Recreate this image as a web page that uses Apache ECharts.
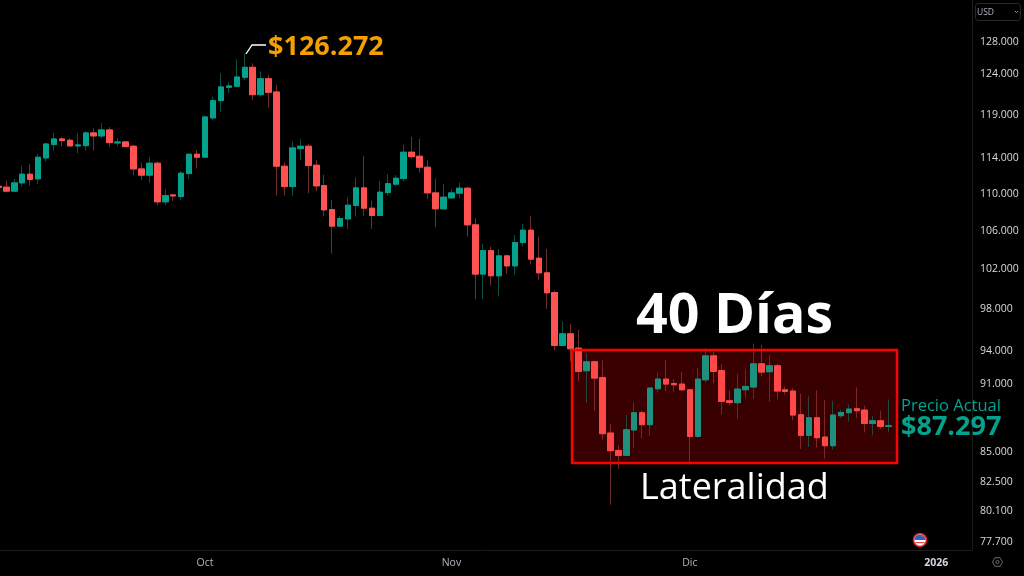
<!DOCTYPE html>
<html><head><meta charset="utf-8">
<style>html,body{margin:0;padding:0;background:#000;overflow:hidden}#c{width:1024px;height:576px}</style>
<script src="https://cdn.jsdelivr.net/npm/echarts@6/dist/echarts.min.js"></script>
</head><body><div id="c"></div>
<script>
const opens=[110600,110510,110070,110980,111950,111430,113780,115310,115960,115810,115155,115190,116660,116310,117007,115500,115615,115120,112540,111840,113184,108900,109660,109475,112016,114205,113860,118420,120480,122100,122225,123325,124560,121200,123150,121530,112845,110575,114845,115120,112960,110685,108060,106290,107065,108500,110430,108215,107420,109910,110840,111460,114435,113977,112735,109880,108140,109330,109850,110395,106430,101320,103730,101150,103185,102155,104565,105865,102945,101450,99476,94350,95460,94105,92000,92830,91385,86455,84965,84545,86715,88225,87175,90360,91240,90840,90785,90270,86160,91175,93380,92025,89285,89110,90270,90515,92640,91910,92460,90270,90155,88050,86250,87785,86110,85365,87960,88225,88575,88460,87285,87520,87025];
const closes=[110480,110070,110980,111950,111350,113860,115380,115960,115765,115155,115270,116660,116310,117007,115535,115615,115075,112540,111840,113184,108900,109584,109550,112060,114205,113860,118540,120480,122140,122260,123360,124560,121200,123150,121490,112845,110575,114925,115120,112915,110650,108030,106290,107097,108540,110430,108215,107420,109955,110905,111500,114435,113930,112735,109880,108140,109410,109880,110395,106430,101320,103730,101150,103185,102155,104565,105865,102845,101450,99445,94350,95460,94040,91935,92830,91330,86395,84940,84545,86740,88225,87175,90425,91240,90785,90720,90270,86160,91240,93380,91935,89225,89135,90335,90570,92640,91880,92460,90155,90120,88020,86250,87785,86050,85365,88020,88250,88550,88400,87285,87520,87025,87090];
const lows=[110320,109910,109990,110570,110680,110870,113360,114620,115075,115075,114320,114615,114615,116040,115040,115155,115000,111840,111313,111015,108500,108570,109005,109113,111425,112575,113800,118180,119165,121370,122050,122990,120525,120960,119640,109585,109585,109585,113556,109850,110100,107385,103425,106247,106000,107310,107385,106000,107400,109585,110575,111125,113705,112125,109220,106185,108100,109300,109330,105190,98820,98820,100170,99080,101350,101280,104150,102335,100715,97870,93880,94300,92855,91085,89085,88425,85880,80485,83405,84500,85170,86025,86220,90030,90155,90095,90200,83760,86100,90930,90875,88075,88870,87695,89530,89465,91475,89195,89400,89850,87550,85085,85255,85220,84290,85050,87760,87460,87785,86505,86250,86800,86505];
const highs=[110760,111240,111430,112880,113110,114240,115500,116660,116190,116040,116620,116860,117205,117790,117325,116040,115730,115305,113250,113860,113410,110285,109660,112320,114270,114695,118620,120960,123820,122710,125560,126272,125060,124065,123610,122380,113300,115695,115925,115350,113520,111870,109113,107386,109365,111570,114010,109035,111200,111950,111840,115305,116195,115960,113520,111460,110870,110285,111015,110575,107140,104400,104150,103910,103320,105340,106535,107385,105190,103910,99675,96635,96415,95840,93635,92830,92950,87260,85425,88020,89170,88400,90515,91845,92985,91265,91910,90300,92275,94105,93785,92615,90210,91695,92185,94540,94420,93445,92640,90570,90425,89915,89670,90210,89375,89285,88490,88955,90480,88845,87960,88400,89400];
const firstDay='2025-09-05', dayCount=123;
const yTicks=[128000,124000,119000,114000,110000,106000,102000,98000,94000,91000,85000,82500,80100,77700];
const xTicks={'2025-10-01':'Oct','2025-11-01':'Nov','2025-12-01':'Dic','2026-01-01':'2026'};
const titleHigh='$126.272', titleRange='40 Días', titleSide='Lateralidad', priceLabel='Precio Actual', priceValue='$87.297';

const categories=[];
{const d=new Date(firstDay+'T00:00:00Z');for(let i=0;i<dayCount;i++){categories.push(d.toISOString().slice(0,10));d.setUTCDate(d.getUTCDate()+1);}}
const UP='#04a28c',DOWN='#ff5252',WUP='#0b5047',WDOWN='#6e2c2c';
const full=opens.map((o,i)=>[o,closes[i],lows[i],highs[i]]);
const bodies=opens.map((o,i)=>[o,closes[i],Math.min(o,closes[i]),Math.max(o,closes[i])]);
const font='"Open Sans",sans-serif';
const text=(x,y,t,size,weight,fill,extra)=>({type:'text',z:200,x:x,y:y,style:Object.assign({text:t,font:`${weight} ${size}px ${font}`,fill:fill,textVerticalAlign:'middle'},extra||{})});
const chart=echarts.init(document.getElementById('c'),null,{renderer:'canvas'});
chart.setOption({
 animation:false,backgroundColor:'#000',
 grid:{left:-5.6,top:0,width:977.6,height:550,containLabel:false,outerBoundsMode:'none'},
 xAxis:{type:'category',data:categories,boundaryGap:true,
  axisLine:{show:true,lineStyle:{color:'#1c1c1c'}},axisTick:{show:false},splitLine:{show:false},
  axisLabel:{interval:(i,v)=>v in xTicks,hideOverlap:false,margin:8,color:'#b2b5be',fontSize:10.5,fontFamily:font,
   formatter:v=>v==='2026-01-01'?'{b|'+xTicks[v]+'}':(xTicks[v]||''),rich:{b:{fontWeight:'bold',color:'#d1d4dc',fontSize:10.5,fontFamily:font}}}},
 yAxis:{type:'log',logBase:10,position:'right',min:76925,max:133215,scale:true,
  axisLine:{show:true,onZero:false,lineStyle:{color:'#1c1c1c'}},axisTick:{show:false},splitLine:{show:false},minorTick:{show:false},
  axisLabel:{customValues:yTicks,margin:8,formatter:v=>'{a|'+(v/1000).toFixed(3)+'}',
   rich:{a:{color:'#d8dae0',fontSize:10.5,fontFamily:font,padding:[4,0,0,0]}}}},
 series:[
  {type:'candlestick',name:'wicks',data:full,barWidth:6,z:3,itemStyle:{color:WUP,color0:WDOWN,borderColor:WUP,borderColor0:WDOWN,borderWidth:1}},
  {type:'candlestick',name:'bodies',data:bodies,barWidth:6,z:4,itemStyle:{color:UP,color0:DOWN,borderColor:UP,borderColor0:DOWN,borderWidth:1}}
 ],
 graphic:{elements:[
  {type:'rect',z:1,shape:{x:572,y:350,width:325,height:113},style:{fill:'#220000'}},
  {type:'rect',z:100,shape:{x:572,y:350,width:325,height:113},style:{fill:'rgba(255,0,0,0.1)',stroke:'#ff0000',lineWidth:2.5}},
  {type:'polyline',z:100,shape:{points:[[246,54],[252,45],[266,45]]},style:{stroke:'#fff',lineWidth:1.3,fill:null}},
  text(268,47,titleHigh,27,'bold','#f59f00'),
  text(636,317,titleRange,55.5,'bold','#fff'),
  text(640,489,titleSide,36,'normal','#fff'),
  text(901,406,priceLabel,16.5,'normal','#04a28c'),
  text(901,427,priceValue,27,'bold','#04a28c'),
  {type:'rect',z:100,shape:{x:975.5,y:3.5,width:45,height:17,r:3},style:{fill:'#000',stroke:'#2a2a2a',lineWidth:1}},
  text(977,12.5,'USD',8.5,'normal','#b2b5be'),
  {type:'polyline',z:100,shape:{points:[[1015,11],[1016.5,12.5],[1018,11]]},style:{stroke:'#999',lineWidth:1,fill:null}},
  {type:'circle',z:100,shape:{cx:920,cy:540,r:6.5},style:{fill:'#fff',stroke:'#d8202a',lineWidth:1.6}},
  {type:'sector',z:101,shape:{cx:920,cy:540,r:5.5,r0:0,startAngle:Math.PI,endAngle:Math.PI*2},style:{fill:'#2c62c8'}},
  {type:'rect',z:101,shape:{x:921,y:535.5,width:4,height:1.2},style:{fill:'#e04a4a'}},
  {type:'rect',z:101,shape:{x:915.5,y:542,width:9,height:1.2},style:{fill:'#e04a4a'}},
  {type:'polygon',z:100,shape:{points:[[992.5,562],[995,557.7],[1000,557.7],[1002.5,562],[1000,566.3],[995,566.3]]},style:{fill:null,stroke:'#6a6a6a',lineWidth:1}},
  {type:'circle',z:100,shape:{cx:997.5,cy:562,r:1.6},style:{fill:null,stroke:'#6a6a6a',lineWidth:1}}
 ]}
});
</script></body></html>
